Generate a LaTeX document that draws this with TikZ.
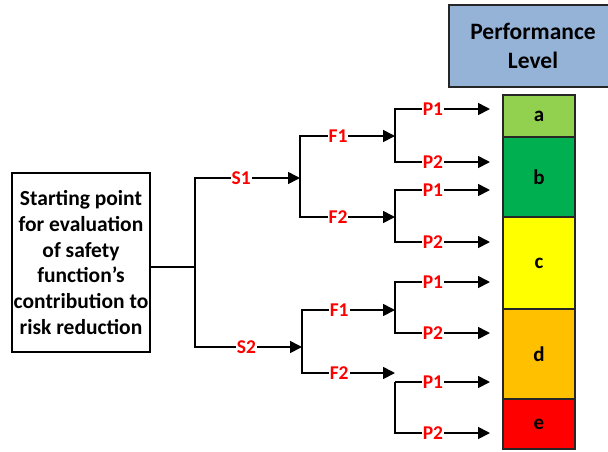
\documentclass[tikz,border=0pt]{standalone}
\usepackage{fontspec}
\setmainfont{Carlito}
\usetikzlibrary{arrows.meta}
\definecolor{pla}{RGB}{146,208,80}
\definecolor{plb}{RGB}{0,176,80}
\definecolor{plc}{RGB}{255,255,0}
\definecolor{pld}{RGB}{255,192,0}
\definecolor{ple}{RGB}{255,0,0}
\definecolor{plhead}{RGB}{149,179,215}
\definecolor{lblred}{RGB}{255,0,0}
\begin{document}
\begin{tikzpicture}[x=1pt,y=-1pt,
  conn/.style={line width=1.7pt,black},
  arr/.style={conn,-{Triangle[length=12pt,width=12pt]}},
  lbl/.style={fill=white,text=lblred,font=\bfseries\fontsize{19.5}{22}\selectfont,inner sep=1pt},
  lvl/.style={draw=black!85,line width=1.3pt,minimum width=72pt,anchor=north west,
    font=\bfseries\fontsize{21}{24}\selectfont,inner sep=0pt,outer sep=0pt}]
\useasboundingbox (0,0) rectangle (608,451);

% header
\node[draw=black!85,line width=2.5pt,fill=plhead,minimum width=168pt,minimum height=82pt,
  align=center,font=\bfseries\fontsize{23.5}{29}\selectfont,inner sep=0pt] (head) at (533,46)
  {Performance\\Level};

% level column
\node[lvl,fill=pla,minimum height=42pt] (la) at (503,95) {a};
\node[lvl,fill=plb,minimum height=80pt] (lb) at (503,137) {b};
\node[lvl,fill=plc,minimum height=92pt] (lc) at (503,217) {c};
\node[lvl,fill=pld,minimum height=90pt] (ld) at (503,309) {d};
\node[lvl,fill=ple,minimum height=50pt] (le) at (503,399) {e};

% start box
\node[draw,line width=1.8pt,minimum width=138pt,minimum height=179pt,align=center,
  font=\bfseries\fontsize{21.5}{25.8}\selectfont,inner sep=0pt] (start) at (81,262.5)
  {Starting point\\for evaluation\\of safety\\function’s\\contribution to\\risk reduction};

% coordinates
\coordinate (j0) at (195,267);
\coordinate (jS1) at (300,178);
\coordinate (jS2) at (302,347);
\coordinate (g1) at (395,136);
\coordinate (g2) at (395,217);
\coordinate (g3) at (395,310);
\coordinate (f4) at (395,373);
\coordinate (g4) at (395,382);
\coordinate (t1) at (490,109);
\coordinate (t2) at (490,162);
\coordinate (t3) at (490,190);
\coordinate (t4) at (490,242);
\coordinate (t5) at (490,282);
\coordinate (t6) at (490,333);
\coordinate (t7) at (490,382);
\coordinate (t8) at (490,433);

% root
\draw[conn] (start.east |- j0) -- (j0);
\draw[arr] (j0) |- node[lbl,pos=0.72] {S1} (jS1);
\draw[arr] (j0) |- node[lbl,pos=0.74] {S2} (jS2);

% F branches
\draw[arr] (jS1) |- node[lbl,pos=0.7] {F1} (g1);
\draw[arr] (jS1) |- node[lbl,pos=0.7] {F2} (g2);
\draw[arr] (jS2) |- node[lbl,pos=0.7] {F1} (g3);
\draw[arr] (jS2) |- node[lbl,pos=0.7] {F2} (f4);

% P branches
\draw[arr] (g1) |- node[lbl,pos=0.7] {P1} (t1);
\draw[arr] (g1) |- node[lbl,pos=0.7] {P2} (t2);
\draw[arr] (g2) |- node[lbl,pos=0.7] {P1} (t3);
\draw[arr] (g2) |- node[lbl,pos=0.7] {P2} (t4);
\draw[arr] (g3) |- node[lbl,pos=0.7] {P1} (t5);
\draw[arr] (g3) |- node[lbl,pos=0.7] {P2} (t6);
\draw[arr] (g4) -- node[lbl,pos=0.4] {P1} (t7);
\draw[arr] (g4) |- node[lbl,pos=0.7] {P2} (t8);
\end{tikzpicture}
\end{document}
